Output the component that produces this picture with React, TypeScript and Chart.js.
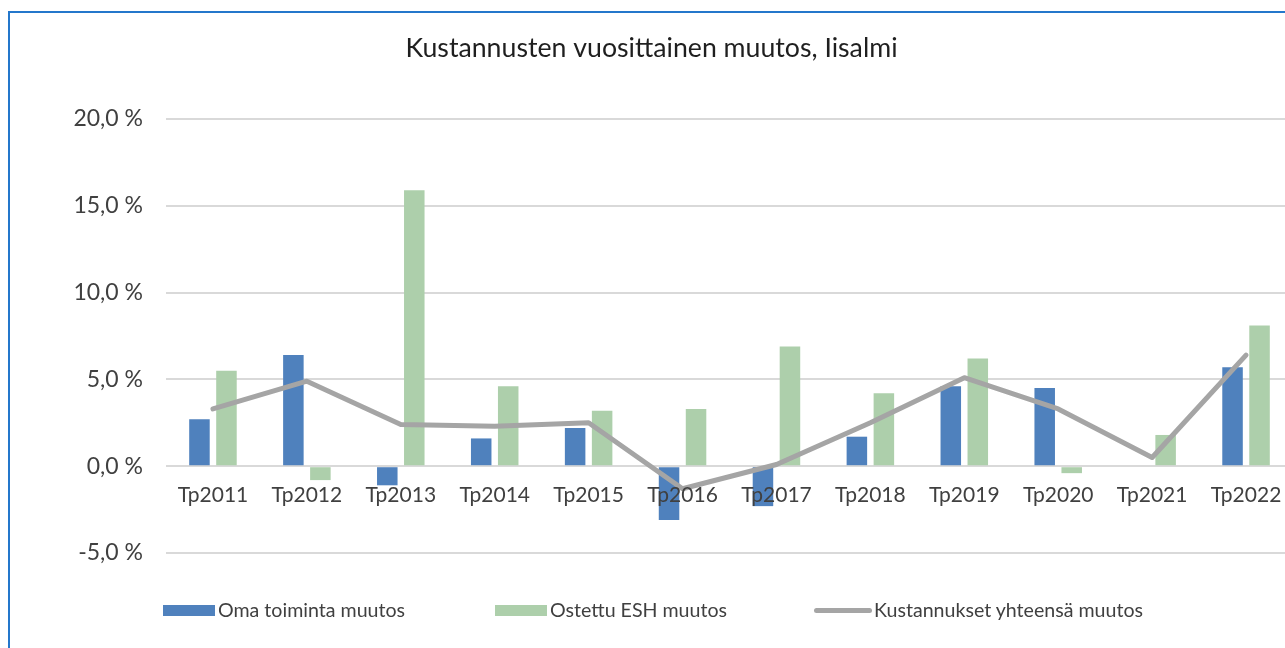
import React, { useEffect, useRef } from "react";
import { Chart, registerables } from "chart.js";

Chart.register(...registerables);

const categories = ["Tp2011", "Tp2012", "Tp2013", "Tp2014", "Tp2015", "Tp2016", "Tp2017", "Tp2018", "Tp2019", "Tp2020", "Tp2021", "Tp2022"];
const omaToiminta = [2.7, 6.4, -1.1, 1.6, 2.2, -3.1, -2.3, 1.7, 4.6, 4.5, 0.0, 5.7];
const ostettuESH = [5.5, -0.8, 15.9, 4.6, 3.2, 3.3, 6.9, 4.2, 6.2, -0.4, 1.8, 8.1];
const kustannuksetYhteensa = [3.3, 4.9, 2.4, 2.3, 2.5, -1.3, 0.1, 2.5, 5.1, 3.3, 0.5, 6.4];
const yMin = -5;
const yMax = 20;
const yStep = 5;

const titleText = "Kustannusten vuosittainen muutos, Iisalmi";
const seriesNames = ["Oma toiminta muutos", "Ostettu ESH muutos", "Kustannukset yhteensä muutos"];

const BLUE = "#4F81BD";
const GREEN = "#ADCFAB";
const GRAY = "#A5A5A5";
const TEXT = "#404040";
const FONT = "Lato, 'Open Sans', sans-serif";

function fmtPct(v: number) {
  return v.toFixed(1).replace(".", ",") + " %";
}

export default function App() {
  const ref = useRef<HTMLCanvasElement | null>(null);

  useEffect(() => {
    if (!ref.current) return;
    const chart = new Chart(ref.current, {
      type: "bar",
      data: {
        labels: categories,
        datasets: [
          {
            label: seriesNames[0],
            data: omaToiminta,
            backgroundColor: BLUE,
            categoryPercentage: 0.575,
            barPercentage: 0.76,
            order: 1,
          },
          {
            label: seriesNames[1],
            data: ostettuESH,
            backgroundColor: GREEN,
            categoryPercentage: 0.575,
            barPercentage: 0.76,
            order: 1,
          },
          {
            type: "line",
            label: seriesNames[2],
            data: kustannuksetYhteensa,
            borderColor: GRAY,
            backgroundColor: GRAY,
            borderWidth: 5,
            pointRadius: 0,
            borderCapStyle: "round",
            borderJoinStyle: "round",
            tension: 0,
            fill: false,
            order: 0,
          } as any,
        ],
      },
      options: {
        responsive: false,
        animation: false,
        devicePixelRatio: 1,
        layout: { padding: { left: 0, right: 17, top: 0, bottom: 80 } },
        plugins: {
          legend: { display: false },
          tooltip: { enabled: false },
          title: {
            display: true,
            text: titleText,
            color: "#1f1f1f",
            font: { family: FONT, size: 26.7, weight: "normal" },
            padding: { top: 19, bottom: 55 },
          },
        },
        scales: {
          x: {
            type: "category",
            position: { y: 0 } as any,
            grid: { display: false, drawTicks: false },
            border: { display: false },
            ticks: {
              z: 1,
              color: TEXT,
              font: { family: FONT, size: 21 },
              padding: 16,
              maxRotation: 0,
              autoSkip: false,
            },
          },
          y: {
            min: yMin,
            max: yMax,
            ticks: {
              stepSize: yStep,
              color: TEXT,
              font: { family: FONT, size: 23 },
              padding: 23,
              callback: (v: any) => fmtPct(Number(v)),
            },
            grid: { color: "#D9D9D9", lineWidth: 2, drawTicks: false },
            border: { display: false },
            afterFit: (s: any) => {
              s.width = 156;
            },
          },
        },
      } as any,
    });
    return () => chart.destroy();
  }, []);

  const legendText: React.CSSProperties = {
    position: "absolute",
    top: 598,
    height: 24,
    lineHeight: "24px",
    fontFamily: FONT,
    fontSize: 19.6,
    color: TEXT,
    whiteSpace: "nowrap",
  };

  return (
    <div style={{ position: "absolute", left: 0, top: 0, width: 1285, height: 648, overflow: "hidden", background: "#fff" }}>
      <div
        style={{
          position: "absolute",
          left: 8,
          top: 11,
          width: 1320,
          height: 700,
          borderLeft: "2px solid #2477CB",
          borderTop: "2px solid #2477CB",
        }}
      />
      <canvas
        ref={ref}
        width={1300}
        height={620}
        style={{ position: "absolute", left: 10, top: 13, width: 1300, height: 620 }}
      />
      <div style={{ position: "absolute", left: 163, top: 605, width: 52, height: 11, background: BLUE }} />
      <div style={{ ...legendText, left: 218 }}>{seriesNames[0]}</div>
      <div style={{ position: "absolute", left: 495, top: 605, width: 52, height: 11, background: GREEN }} />
      <div style={{ ...legendText, left: 550 }}>{seriesNames[1]}</div>
      <div style={{ position: "absolute", left: 814, top: 608, width: 58, height: 5, borderRadius: 3, background: GRAY }} />
      <div style={{ ...legendText, left: 874 }}>{seriesNames[2]}</div>
    </div>
  );
}
